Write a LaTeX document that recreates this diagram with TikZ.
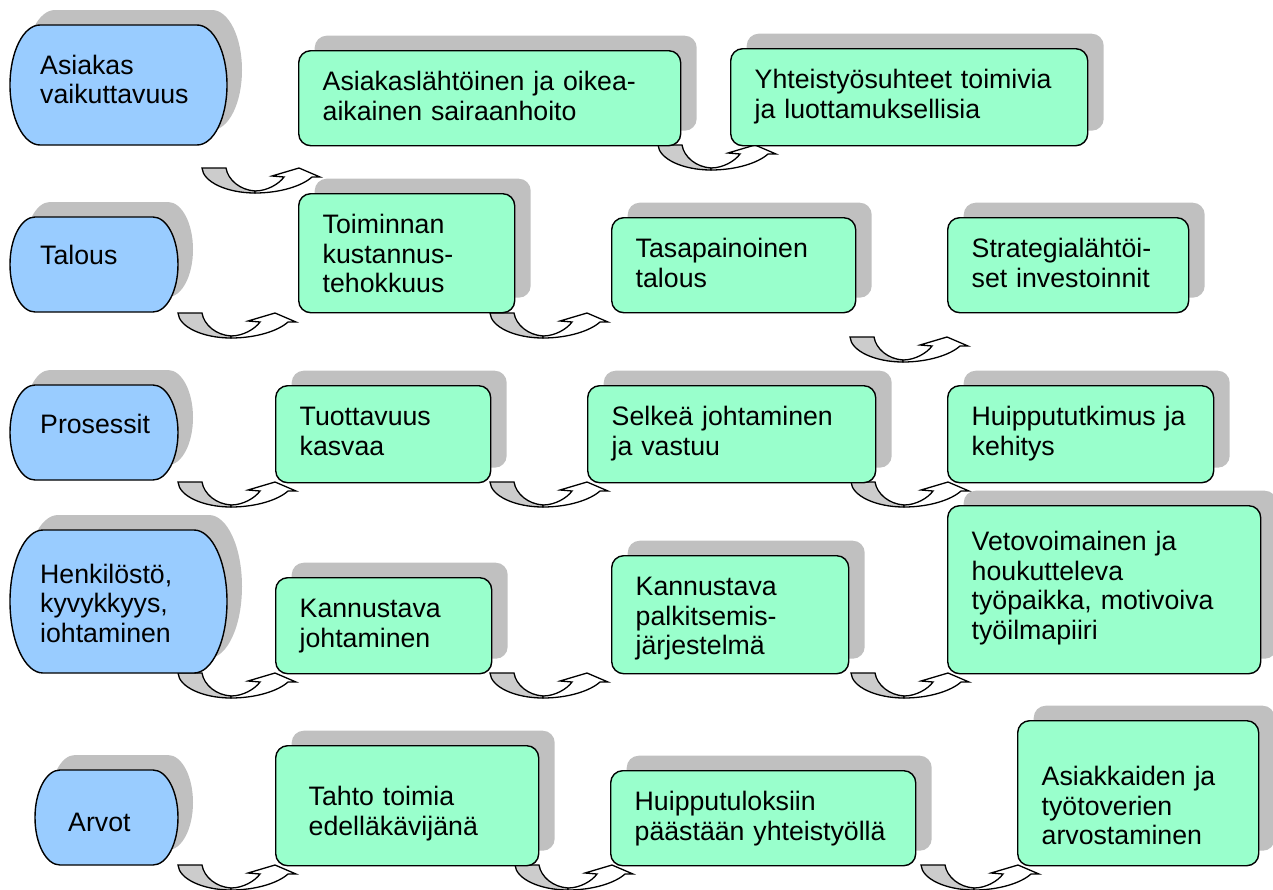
\documentclass[tikz,border=0pt]{standalone}
\usepackage{fontspec}
\setmainfont{Liberation Sans}
\usetikzlibrary{shadows}
\hyphenpenalty=10000
\definecolor{perspblue}{RGB}{153,204,255}
\definecolor{goalgreen}{RGB}{153,255,204}
\definecolor{shadegray}{RGB}{192,192,192}
\definecolor{turngray}{RGB}{204,204,204}

\begin{document}
\begin{tikzpicture}[
  x=1pt, y=-1pt,
  font=\fontsize{26.7}{29.5}\selectfont,
  boxshadow/.style={drop shadow={shadow xshift=16pt, shadow yshift=15pt, fill=shadegray, opacity=1}},
  goal/.style n args={4}{draw, line width=1.4pt, fill=goalgreen, boxshadow, rounded corners=12pt, align=left,
    anchor=north west, inner ysep=0pt, inner xsep=24pt, minimum width=#1pt, minimum height=#2pt, text width=#3pt,
    /utils/exec={\pgfmathsetmacro\goaldepth{#2-#4}}, text height=#4pt, text depth=\goaldepth pt},
  persptext/.style={align=left, inner sep=0pt, text width=160pt, anchor=base west},
  pics/perspshape/.style n args={3}{code={
    \fill[shadegray, xshift=15pt, yshift=15pt] (#3,0) -- (#1-#3,0)
      arc[start angle=-90, end angle=90, x radius=#3, y radius=#2/2] -- (#3,#2)
      arc[start angle=90, end angle=270, x radius=#3, y radius=#2/2] -- cycle;
    \filldraw[fill=perspblue, line width=1.4pt] (#3,0) -- (#1-#3,0)
      arc[start angle=-90, end angle=90, x radius=#3, y radius=#2/2] -- (#3,#2)
      arc[start angle=90, end angle=270, x radius=#3, y radius=#2/2] -- cycle;
  }},
  uturn/.pic={
    \filldraw[fill=turngray] (0,0) -- (24,0) .. controls (26,12) and (38,22) .. (53,23) -- (53,25)
      .. controls (25,25) and (1,14) .. (0,0) -- cycle;
    \filldraw[fill=white] (53,25) .. controls (78,25) and (100,18) .. (110,9) -- (118,9) -- (97,0) -- (70,8) -- (82,9)
      .. controls (77,16) and (65,23) .. (53,23) -- cycle;
  },
  turnline/.style={line width=1.3pt}
]
\useasboundingbox (0,0) rectangle (1273,889);

\foreach \p in {(202,168),(658,145),(178,313),(490,313),(850,337),(178,482),(490,482),(851,482),
                (178,673),(490,673),(851,673),(178,865),(515,865),(921,865)}
  \pic[turnline] at \p {uturn};

\pic at (10,25) {perspshape={217}{120}{30}};
\pic at (10,217) {perspshape={168}{95}{25}};
\pic at (10,385) {perspshape={168}{95}{25}};
\pic at (10,530) {perspshape={217}{143}{33}};
\pic at (35,770) {perspshape={143}{95}{25}};

\node[persptext] (asiakas) at (40,74) {Asiakas\\vaikuttavuus};
\node[persptext] (talous) at (40,264) {Talous};
\node[persptext] (prosessit) at (40,433) {Prosessit};
\node[persptext] (henkilosto) at (40,583) {Henkilöstö,\\kyvykkyys,\\iohtaminen};
\node[persptext] (arvot) at (68,831) {Arvot};

\node[goal={382}{95}{334}{40}] (sairaanhoito) at (298,50) {Asiakaslähtöinen ja oikea-\\aikainen sairaanhoito};
\node[goal={357}{97}{309}{40}] (yhteistyo) at (730,48) {Yhteistyösuhteet toimivia\\ja luottamuksellisia};

\node[goal={216}{119}{168}{40}] (kustannus) at (298,193) {Toiminnan\\kustannus-\\tehokkuus};
\node[goal={244}{95}{196}{40}] (tasapaino) at (611,217) {Tasapainoinen\\talous};
\node[goal={241}{95}{193}{40}] (investoinnit) at (947,217) {Strategialähtöi-\\set investoinnit};

\node[goal={215}{97}{167}{40}] (tuottavuus) at (275,385) {Tuottavuus\\kasvaa};
\node[goal={288}{97}{240}{40}] (vastuu) at (587,385) {Selkeä johtaminen\\ja vastuu};
\node[goal={266}{97}{218}{40}] (kehitys) at (947,385) {Huippututkimus ja\\kehitys};

\node[goal={216}{96}{168}{40}] (kannustava) at (275,577) {Kannustava\\johtaminen};
\node[goal={237}{118}{189}{40}] (palkitsemis) at (611,555) {Kannustava\\palkitsemis-\\järjestelmä};
\node[goal={313}{168}{265}{45}] (vetovoima) at (947,505) {Vetovoimainen ja\\houkutteleva\\työpaikka, motivoiva\\työilmapiiri};

\node[goal={263}{120}{197}{60}, inner xsep=33pt] (edellakavija) at (275,745) {Tahto toimia\\edelläkävijänä};
\node[goal={305}{95}{257}{40}] (huipputulos) at (610,770) {Huipputuloksiin\\päästään yhteistyöllä};
\node[goal={241}{145}{193}{65}] (arvostus) at (1017,720) {Asiakkaiden ja\\työtoverien\\arvostaminen};
\end{tikzpicture}
\end{document}
